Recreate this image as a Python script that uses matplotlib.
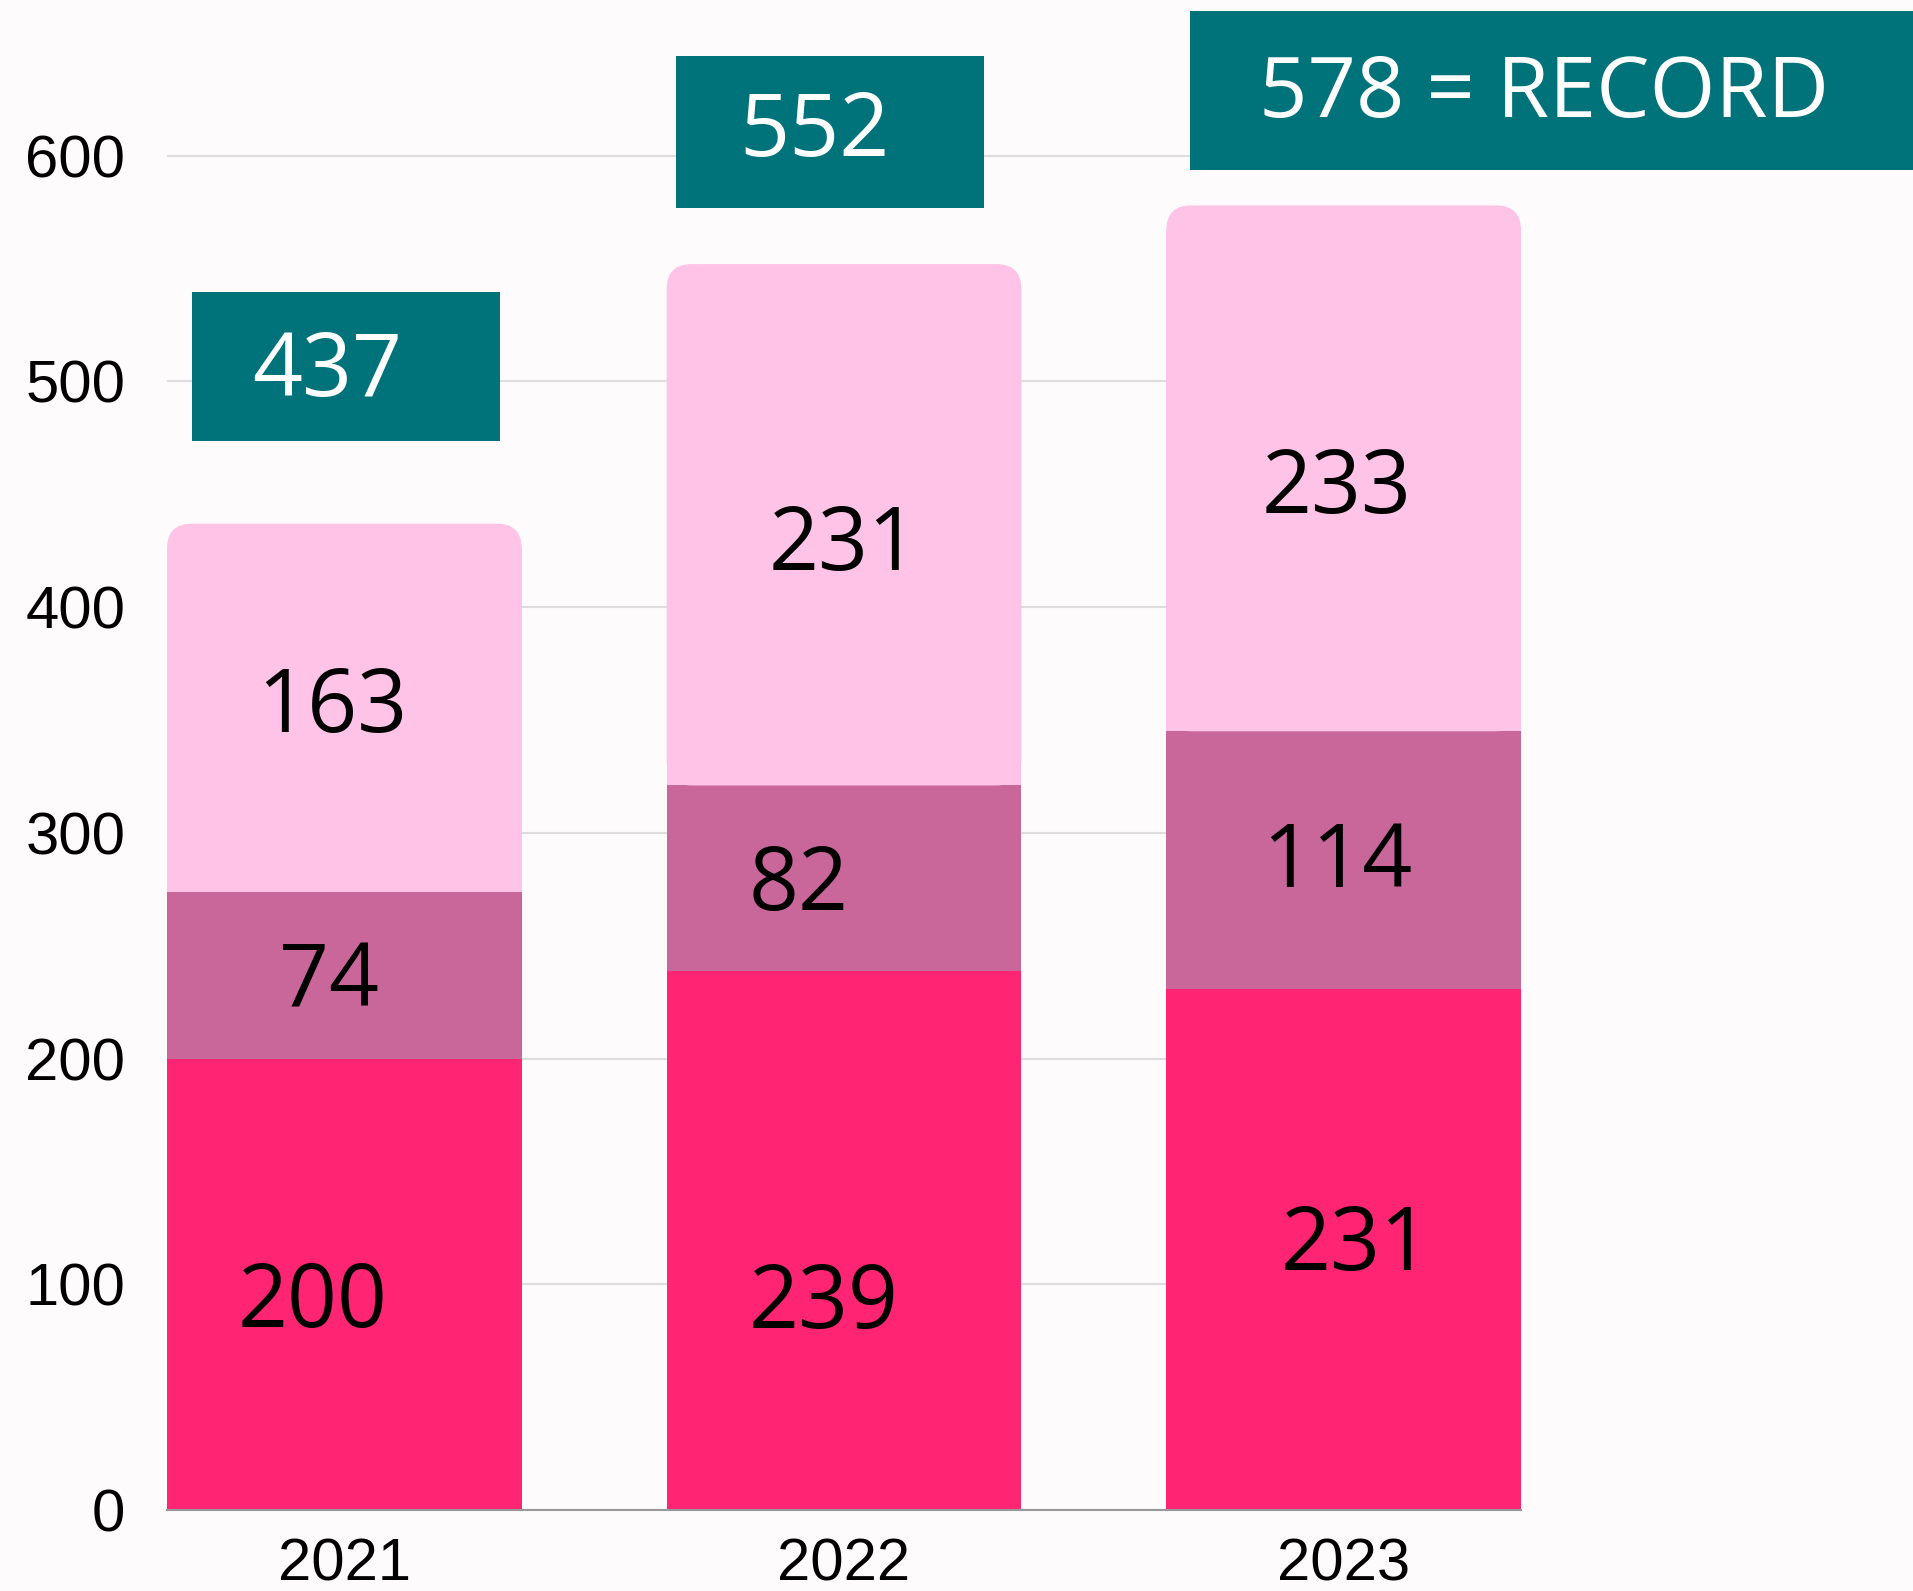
import matplotlib.pyplot as plt
import numpy as np
from matplotlib.patches import FancyBboxPatch, Rectangle

years = ["2021", "2022", "2023"]
seg_bottom = [200, 239, 231]
seg_middle = [74, 82, 114]
seg_top = [163, 231, 233]
record_note = " = RECORD"

c_bottom = "#ff2572"
c_middle = "#c9679a"
c_top = "#ffc3e7"
c_box = "#00727a"
bg = "#fdfbfc"

# small nudges for the value labels (x in bar units, y in data units)
nudge_x = [[-0.063, -0.03, -0.024], [-0.04, -0.09, 0.0], [0.024, -0.012, -0.015]]
nudge_y = [[-5, 0, 3], [-25, 0, -6], [5, 2, -6]]

x = np.arange(len(years))
w = 0.71
bottoms = np.array(seg_bottom)
middles = np.array(seg_middle)
tops_v = np.array(seg_top)
totals = bottoms + middles + tops_v

fig = plt.figure(figsize=(19.13, 15.91), dpi=100, facecolor=bg)
ax = fig.add_axes([0.0873, 0.0509, 0.7078, 0.9491], facecolor=bg)
ax.set_xlim(-w / 2, len(years) - 1 + w / 2)
ax.set_ylim(0, 669)

ax.bar(x, bottoms, w, color=c_bottom, zorder=2, linewidth=0)
ax.bar(x, middles, w, bottom=bottoms, color=c_middle, zorder=2, linewidth=0)
tops = ax.bar(x, tops_v, w, bottom=bottoms + middles, color=c_top, zorder=2, linewidth=0)

# round top corners of the top segment
px_x = ax.transData.transform((1, 0))[0] - ax.transData.transform((0, 0))[0]
px_y = ax.transData.transform((0, 1))[1] - ax.transData.transform((0, 0))[1]
rad = 25
rx = rad / px_x
ry = rad / px_y
for b in tops:
    x0, y0, bw, bh = b.get_x(), b.get_y(), b.get_width(), b.get_height()
    b.set_height(bh - ry)
    ax.add_patch(FancyBboxPatch((x0, y0), bw, bh,
                                boxstyle=f"round,pad=0,rounding_size={rx}",
                                mutation_aspect=px_x / px_y,
                                fc=c_top, ec="none", lw=0, zorder=2))

# value labels
cap = 63 / px_y
lab_font = dict(family=["Open Sans", "DejaVu Sans"], fontsize=63, color="black")
for i in range(len(years)):
    segs = [(bottoms[i], 0), (middles[i], bottoms[i]), (tops_v[i], bottoms[i] + middles[i])]
    for j, (v, base) in enumerate(segs):
        ax.text(x[i] + nudge_x[i][j], base + v / 2 - cap / 2 + nudge_y[i][j], str(v),
                ha="center", va="baseline", zorder=4, **lab_font)

# total boxes
box_font = dict(family=["Open Sans", "DejaVu Sans"], color="white")
boxes = [(-0.305, 473.5, 0.617, 66), (0.663, 577, 0.617, 67), (1.693, 593.5, 1.5, 70.5)]
txt_pos = [(-0.034, 493.5, "center", 63), (0.94, 600, "center", 63), (1.83, 617, "left", 61)]
for i in range(len(years)):
    bx, by, bw, bh = boxes[i]
    ax.add_patch(Rectangle((bx, by), bw, bh, fc=c_box, ec="none", zorder=5, clip_on=False))
    label = str(totals[i]) + (record_note if i == len(years) - 1 else "")
    tx, ty, ha, fs = txt_pos[i]
    ax.text(tx, ty, label, ha=ha, va="baseline", fontsize=fs, zorder=6, clip_on=False, **box_font)

# axes styling
ax.set_yticks(range(0, 601, 100))
ax.set_xticks(x, years)
ax.yaxis.grid(True, color="#dddddd", linewidth=1.5, zorder=0)
ax.set_axisbelow(True)
for s in ["left", "right", "top"]:
    ax.spines[s].set_visible(False)
ax.spines["bottom"].set_color("#999999")
ax.spines["bottom"].set_linewidth(1.5)
ax.spines["bottom"].set_zorder(3)
ax.tick_params(length=0, labelsize=43)
ax.tick_params(axis="y", pad=30)
ax.tick_params(axis="x", pad=20)
for t in ax.get_xticklabels() + ax.get_yticklabels():
    t.set_fontfamily("Liberation Sans")

fig.savefig("out.png", dpi=100, facecolor=bg)
